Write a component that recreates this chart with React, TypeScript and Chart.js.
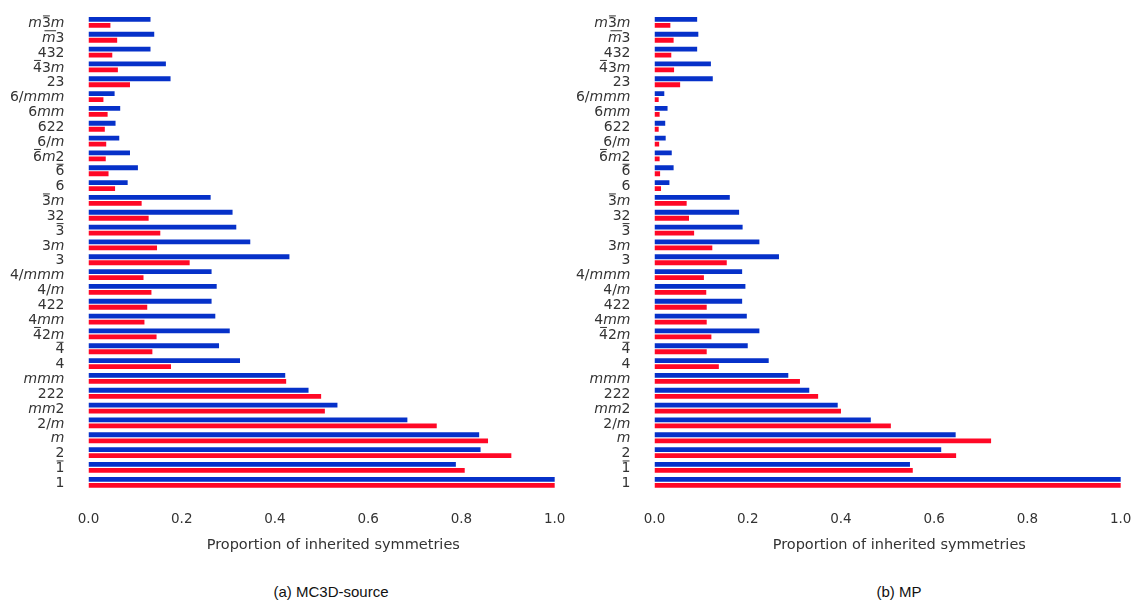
import React, { useEffect, useRef } from "react";
import { Chart, registerables } from "chart.js";

Chart.register(...registerables);

const O = "\u0305";

// Point groups, top to bottom (a character followed by U+0305 is overlined)
const categories = [
  "m3" + O + "m", "m" + O + "3", "432", "4" + O + "3m", "23", "6/mmm", "6mm", "622", "6/m",
  "6" + O + "m2", "6" + O, "6", "3" + O + "m", "32", "3" + O, "3m", "3", "4/mmm", "4/m",
  "422", "4mm", "4" + O + "2m", "4" + O, "4", "mmm", "222", "mm2", "2/m", "m", "2", "1" + O, "1",
];

const xTicks = [0, 0.2, 0.4, 0.6, 0.8, 1.0];

const mc3dBlue = [
  0.133, 0.141, 0.133, 0.166, 0.176, 0.056, 0.068, 0.058, 0.066, 0.089, 0.106, 0.084,
  0.262, 0.309, 0.317, 0.347, 0.431, 0.264, 0.275, 0.264, 0.272, 0.303, 0.28, 0.325,
  0.422, 0.472, 0.534, 0.684, 0.838, 0.841, 0.788, 1.0,
];
const mc3dRed = [
  0.047, 0.0615, 0.051, 0.063, 0.089, 0.032, 0.041, 0.035, 0.038, 0.037, 0.043, 0.057,
  0.114, 0.129, 0.154, 0.147, 0.217, 0.118, 0.135, 0.126, 0.12, 0.146, 0.137, 0.177,
  0.424, 0.499, 0.507, 0.747, 0.857, 0.907, 0.807, 1.0,
];
const mpBlue = [
  0.0915, 0.094, 0.0915, 0.121, 0.125, 0.021, 0.028, 0.023, 0.024, 0.037, 0.041, 0.032,
  0.1615, 0.1815, 0.189, 0.225, 0.267, 0.188, 0.195, 0.188, 0.198, 0.225, 0.2, 0.245,
  0.287, 0.332, 0.393, 0.464, 0.646, 0.615, 0.548, 1.0,
];
const mpRed = [
  0.034, 0.041, 0.036, 0.042, 0.055, 0.009, 0.011, 0.009, 0.01, 0.011, 0.012, 0.014,
  0.069, 0.074, 0.085, 0.124, 0.155, 0.106, 0.111, 0.112, 0.112, 0.122, 0.112, 0.138,
  0.312, 0.351, 0.4, 0.507, 0.722, 0.647, 0.554, 1.0,
];

const BLUE = "#0631c9";
const RED = "#ff0826";
const TEXT = "#333333";
const FONT = '"DejaVu Sans", sans-serif';

const mathLabels = {
  id: "mathLabels",
  afterDraw(chart: any) {
    const ctx = chart.ctx;
    const yScale = chart.scales.y;
    const xRight = chart.chartArea.left - 24;
    ctx.save();
    ctx.fillStyle = TEXT;
    ctx.textBaseline = "middle";
    ctx.textAlign = "left";
    (chart.data.labels as string[]).forEach((lab, i) => {
      const py = yScale.getPixelForTick(i) + 1;
      const segs: any[] = [];
      for (let k = 0; k < lab.length; k++) {
        const ch = lab[k];
        if (ch === O) continue;
        segs.push({ ch, over: lab[k + 1] === O, italic: /[a-z]/.test(ch) });
      }
      const fontFor = (s: any) => `${s.italic ? "italic " : ""}14px ${FONT}`;
      let w = 0;
      segs.forEach((s) => {
        ctx.font = fontFor(s);
        s.w = ctx.measureText(s.ch).width;
        w += s.w;
      });
      let x = xRight - w;
      segs.forEach((s) => {
        ctx.font = fontFor(s);
        ctx.fillText(s.ch, x, py);
        if (s.over) ctx.fillRect(x + (s.italic ? 2.5 : 1), py - 8, s.w - 2, 1);
        x += s.w;
      });
    });
    ctx.restore();
  },
};

function Panel({ blue, red, left }: { blue: number[]; red: number[]; left: number }) {
  const ref = useRef<HTMLCanvasElement>(null);
  useEffect(() => {
    const chart = new Chart(ref.current!, {
      type: "bar",
      data: {
        labels: categories,
        datasets: [
          { data: blue, backgroundColor: BLUE, categoryPercentage: 0.81, barPercentage: 0.8 },
          { data: red, backgroundColor: RED, categoryPercentage: 0.81, barPercentage: 0.8 },
        ],
      },
      options: {
        indexAxis: "y",
        animation: false,
        responsive: false,
        devicePixelRatio: 1,
        layout: { padding: { top: 15, right: 2, left: 0, bottom: 0 } },
        plugins: { legend: { display: false }, tooltip: { enabled: false } },
        scales: {
          y: {
            type: "category",
            offset: true,
            grid: { display: false, drawTicks: false },
            border: { display: false },
            ticks: { display: false },
            afterFit: (s: any) => {
              s.width = 88.5;
            },
          },
          x: {
            type: "linear",
            min: 0,
            max: 1.05,
            grid: { display: false, drawTicks: false },
            border: { display: false },
            afterBuildTicks: (s: any) => {
              s.ticks = xTicks.map((v) => ({ value: v }));
            },
            ticks: {
              padding: 22,
              color: TEXT,
              font: { family: FONT, size: 13.5 },
              callback: (v: any) => Number(v).toFixed(1),
            },
            title: {
              display: true,
              text: "Proportion of inherited symmetries",
              color: TEXT,
              font: { family: FONT, size: 14.5 },
              padding: { top: 0, bottom: 7.4 },
            },
            afterFit: (s: any) => {
              s.height = 71.3;
              s.paddingLeft = 0;
              s.paddingRight = 0;
            },
          },
        },
      },
      plugins: [mathLabels],
    });
    return () => chart.destroy();
  }, []);
  return (
    <canvas
      ref={ref}
      width={580}
      height={561}
      style={{ position: "absolute", left, top: 0, width: 580, height: 561 }}
    />
  );
}

export default function App() {
  const cap: React.CSSProperties = {
    position: "absolute",
    top: 582,
    width: 300,
    textAlign: "center",
    fontFamily: '"Liberation Sans", Arial, sans-serif',
    fontSize: 15,
    color: "#111",
    lineHeight: "20px",
  };
  return (
    <div
      style={{
        position: "absolute",
        left: 0,
        top: 0,
        width: 1132,
        height: 601,
        overflow: "hidden",
        background: "#fff",
      }}
    >
      <Panel blue={mc3dBlue} red={mc3dRed} left={0} />
      <Panel blue={mpBlue} red={mpRed} left={566} />
      <div style={{ ...cap, left: 331 - 150 }}>(a) MC3D-source</div>
      <div style={{ ...cap, left: 899 - 150 }}>(b) MP</div>
    </div>
  );
}
